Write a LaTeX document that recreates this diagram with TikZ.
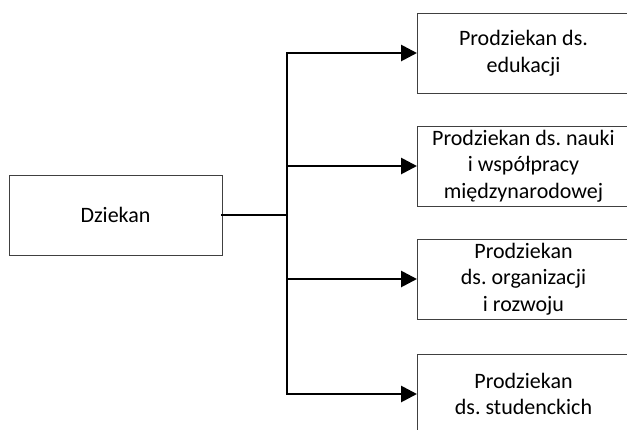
\documentclass[tikz,border=0pt]{standalone}
\usepackage{fontspec}
\setmainfont{Carlito}
\usetikzlibrary{arrows.meta}
\frenchspacing
\begin{document}
\begin{tikzpicture}[x=1pt,y=-1pt,
  box/.style={draw=black!75, line width=1pt, rectangle, minimum height=80pt,
    inner sep=0pt, align=center, font=\frenchspacing\fontsize{22}{26.7}\selectfont},
  rbox/.style={box, minimum width=212pt, anchor=west},
  conn/.style={line width=2.8pt, line cap=rect},
  arr/.style={conn, -{Triangle[length=16pt,width=16pt]}}]
\useasboundingbox (0,0) rectangle (627,429);
\node[box, minimum width=213pt] (dz) at (115.5,215) {Dziekan};
\node[rbox] (p1) at (417,53) {Prodziekan ds.\\edukacji};
\node[rbox] (p2) at (417,166) {Prodziekan ds. nauki\\i współpracy\\międzynarodowej};
\node[rbox] (p3) at (417,279) {Prodziekan\\ds. organizacji\\i rozwoju};
\node[rbox] (p4) at (417,394) {Prodziekan\\ds. studenckich};
\coordinate (j) at (287,215);
\draw[conn] (dz.east) -- (j);
\draw[arr] (j |- p4.west) -- (j |- p1.west) -- (p1.west);
\draw[arr] (j |- p2.west) -- (p2.west);
\draw[arr] (j |- p3.west) -- (p3.west);
\draw[arr] (j |- p4.west) -- (p4.west);
\end{tikzpicture}
\end{document}
